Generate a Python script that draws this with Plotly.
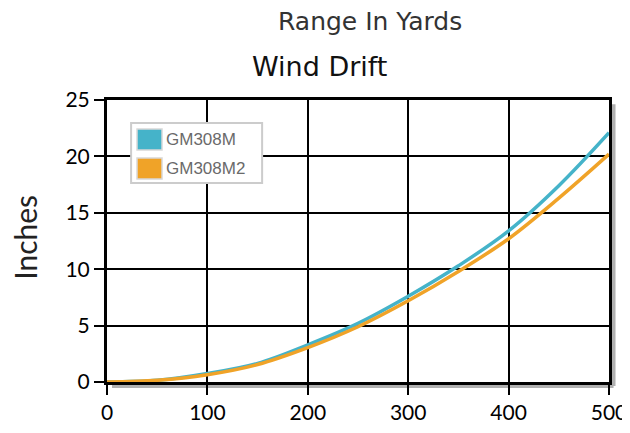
import plotly.graph_objects as go

yards = [0, 50, 100, 150, 200, 250, 300, 350, 400, 450, 500]
gm308m = [0, 0.15, 0.75, 1.65, 3.3, 5.2, 7.6, 10.3, 13.4, 17.4, 22.1]
gm308m2 = [0, 0.15, 0.65, 1.55, 3.05, 4.9, 7.2, 9.8, 12.7, 16.3, 20.2]
names = ["GM308M", "GM308M2"]
colors = ["#45b3c9", "#f0a328"]
x_ticks = [0, 100, 200, 300, 400, 500]
y_ticks = [0, 5, 10, 15, 20, 25]

fig = go.Figure()
for vals, name, col in zip([gm308m, gm308m2], names, colors):
    fig.add_trace(go.Scatter(x=yards, y=vals, mode="lines", name=name,
                             line=dict(color=col, width=3.5, shape="spline"),
                             showlegend=False))

tickfont = dict(family="Lato, Open Sans, sans-serif", size=21, color="black")
axis_common = dict(showgrid=True, gridcolor="black", gridwidth=2,
                   showline=True, linecolor="black", linewidth=3, mirror=True,
                   ticks="outside", ticklen=10, tickwidth=2, tickcolor="black",
                   zeroline=False, tickfont=tickfont, automargin=False)

shapes = [
    dict(type="line", xref="paper", yref="paper", x0=1.009, x1=1.009, y0=-0.014, y1=0.985,
         line=dict(color="#b0b0b0", width=4), layer="below"),
    dict(type="line", xref="paper", yref="paper", x0=0.01, x1=1.009, y0=-0.014, y1=-0.014,
         line=dict(color="#b0b0b0", width=4), layer="below"),
    dict(type="rect", xref="paper", yref="paper", x0=0.048, x1=0.309, y0=0.706, y1=0.918,
         fillcolor="white", line=dict(color="#cccccc", width=2)),
]
annotations = [
    dict(text="Range In Yards", xref="paper", yref="paper", x=0.524, y=1.0, yshift=62,
         showarrow=False, xanchor="center", yanchor="bottom",
         font=dict(family="DejaVu Sans, sans-serif", size=25, color="#333333")),
    dict(text="Wind Drift", xref="paper", yref="paper", x=0.424, y=1.0, yshift=16,
         showarrow=False, xanchor="center", yanchor="bottom",
         font=dict(family="DejaVu Sans, sans-serif", size=27, color="#111111")),
    dict(text="Inches", xref="paper", yref="paper", x=-0.164, y=0.514, textangle=-90,
         showarrow=False, xanchor="center", yanchor="middle",
         font=dict(family="Lato, Open Sans, sans-serif", size=30, color="#222222")),
]
sw_y = [(0.8227, 0.8972), (0.7199, 0.7943)]
for name, col, (y0, y1) in zip(names, colors, sw_y):
    shapes.append(dict(type="rect", xref="paper", yref="paper", x0=0.0598, x1=0.1096,
                       y0=y0, y1=y1, fillcolor=col, line=dict(color="#d8d8d8", width=1.5)))
    annotations.append(dict(text=name, xref="paper", yref="paper", x=0.114, y=(y0 + y1) / 2,
                            showarrow=False, xanchor="left", yanchor="middle",
                            font=dict(family="Arial, Liberation Sans, sans-serif", size=17,
                                      color="#6a6a6a")))

# page body has an 8px margin, so the figure is sized/offset to compensate
fig.update_layout(
    width=622, height=425,
    margin=dict(l=99, r=21, t=92, b=51),
    paper_bgcolor="white", plot_bgcolor="white",
    showlegend=False,
    xaxis=dict(range=[0, 500], tickvals=x_ticks, **axis_common),
    yaxis=dict(range=[0, 25], tickvals=y_ticks, **axis_common),
    annotations=annotations,
    shapes=shapes,
)

fig.write_html("out.html")
